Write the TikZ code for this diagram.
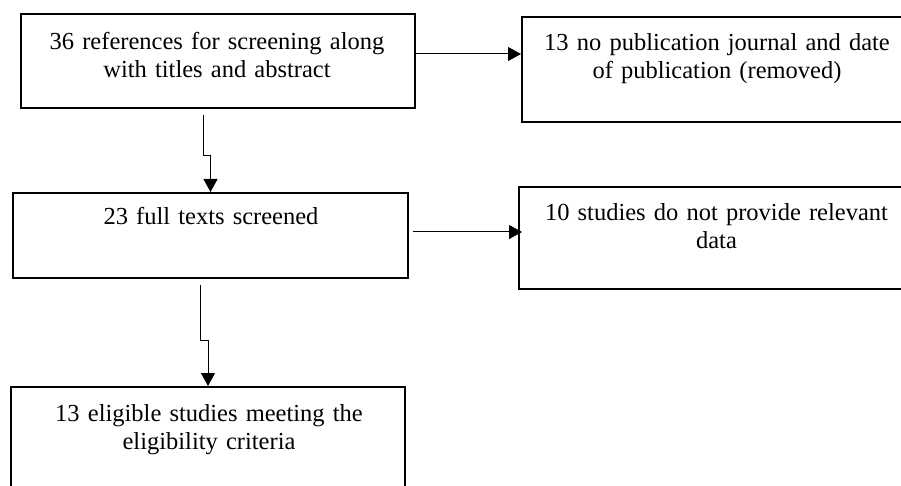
\documentclass[tikz,border=0pt]{standalone}
\usepackage{fontspec}
\setmainfont{Liberation Serif}
\usetikzlibrary{arrows.meta,calc}
\begin{document}
\begin{tikzpicture}[x=1pt,y=1pt,
  box/.style={draw=black,line width=2pt,rectangle,inner sep=0pt,anchor=center},
  txt/.style={inner sep=0pt,text width=390pt,align=center,anchor=base,
    font=\fontsize{24.5}{28}\selectfont},
  conn/.style={draw=black,line width=1pt,-{Triangle[length=13pt,width=14pt]}}]
\useasboundingbox[clip] (0,0) rectangle (901,485);
\fill[white] (0,0) rectangle (901,485);
% boxes
\node[box,minimum width=394pt,minimum height=94pt] (b1) at (218,424) {};
\node[box,minimum width=390pt,minimum height=105pt] (b2) at (717,415.5) {};
\node[box,minimum width=395pt,minimum height=85pt] (b3) at (210.5,249.5) {};
\node[box,minimum width=395pt,minimum height=102pt] (b4) at (716.5,247) {};
\node[box,minimum width=394pt,minimum height=120pt] (b5) at (208,38) {};
% texts
\node[txt] (t1) at (217,435) {36 references for screening along\\with titles and abstract};
\node[txt] (t2) at (717,434) {13 no publication journal and date\\of publication (removed)};
\node[txt] (t3) at (211,260) {23 full texts screened};
\node[txt] (t4) at (716.5,264) {10 studies do not provide relevant\\data};
\node[txt] (t5) at (209,64) {13 eligible studies meeting the\\eligibility criteria};
% connectors
\draw[conn] ([yshift=7pt]b1.east) -- ([yshift=7pt]b1.east -| b2.west);
\draw[conn] ([shift={(-15pt,-6pt)}]b1.south) -- ++(0,-41) -| (b3.north);
\draw[conn] ([shift={(4pt,3.5pt)}]b3.east) -- ([shift={(4pt,3.5pt)}]b3.east -| b4.west);
\draw[conn] ([shift={(-10.5pt,-6pt)}]b3.south) -- ++(0,-55) -| (b5.north);
\end{tikzpicture}
\end{document}
